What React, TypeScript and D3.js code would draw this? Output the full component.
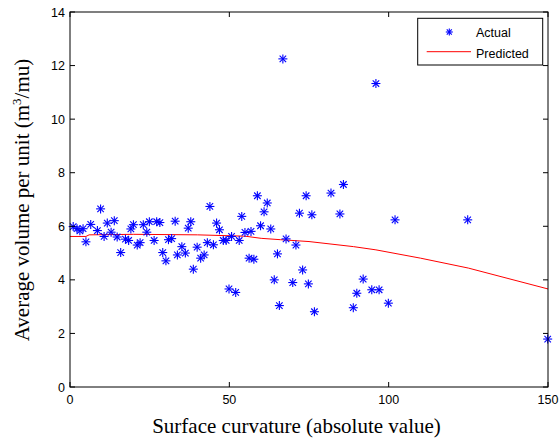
import React from "react";
import * as d3 from "d3";

const actualX = [
  1.0, 2.2, 3.1, 4.1, 5.0, 6.5, 8.6, 9.6, 10.7, 11.7, 12.9, 13.9, 14.8, 15.9, 17.4, 18.4, 19.1, 19.9,
  21.1, 22.0, 23.0, 24.1, 24.9, 26.4, 27.2, 28.2, 29.1, 30.1, 30.9, 31.9, 33.0, 33.7, 35.1, 36.2, 37.1,
  37.9, 38.7, 39.9, 41.0, 42.1, 43.1, 43.9, 45.0, 46.0, 46.9, 48.1, 49.0, 49.9, 50.7, 52.0, 53.1, 53.9,
  54.9, 56.2, 56.8, 57.7, 58.8, 59.8, 60.9, 61.9, 63.0, 64.1, 65.1, 65.7, 66.8, 67.8, 69.9, 70.9, 72.0,
  73.0, 74.1, 74.8, 75.9, 76.7, 81.9, 84.7, 85.8, 88.9, 90.0, 92.0, 94.7, 97.0, 99.9, 102.0, 124.8, 149.9,
  96.0,
];
const actualY = [
  5.99, 5.91, 5.83, 5.91, 5.42, 6.07, 5.84, 6.65, 5.62, 6.12, 5.78, 6.21, 5.6, 5.02, 5.52, 5.47, 5.9, 6.06,
  5.3, 5.39, 6.06, 5.78, 6.17, 5.47, 6.17, 6.14, 5.02, 4.71, 5.5, 5.54, 6.19, 4.93, 5.24, 5.0, 5.93,
  6.17, 4.4, 5.22, 4.81, 4.93, 5.39, 6.74, 5.31, 6.12, 5.87, 5.47, 5.47, 3.66, 5.62, 3.53, 5.47, 6.37,
  5.77, 4.81, 5.81, 4.77, 7.14, 6.02, 6.54, 6.87, 5.9, 4.0, 4.97, 3.04, 12.25, 5.53, 3.9, 5.3, 6.49,
  4.37, 7.14, 3.85, 6.43, 2.81, 7.24, 6.46, 7.56, 2.96, 3.5, 4.03, 3.63, 3.63, 3.13, 6.24, 6.24, 1.79,
  11.33,
];

const predX = [0, 5, 6, 20, 40, 55, 60, 66, 75, 89, 96, 110, 125, 150];
const predY = [5.62, 5.62, 5.68, 5.7, 5.68, 5.63, 5.55, 5.5, 5.43, 5.24, 5.12, 4.81, 4.44, 3.66];

const xTicks = [0, 50, 100, 150];
const yTicks = [0, 2, 4, 6, 8, 10, 12, 14];

const W = 560;
const H = 445;
const L = 70, R = 548, T = 12, B = 387;
const TICK = 5;

function Star({ x, y, s = 4.5, w = 1.1 }: { x: number; y: number; s?: number; w?: number }) {
  const d = s * 0.72;
  return (
    <g stroke="#0000ff" strokeWidth={w} fill="none">
      <line x1={x - s} y1={y} x2={x + s} y2={y} />
      <line x1={x} y1={y - s} x2={x} y2={y + s} />
      <line x1={x - d} y1={y - d} x2={x + d} y2={y + d} />
      <line x1={x - d} y1={y + d} x2={x + d} y2={y - d} />
    </g>
  );
}

export default function App() {
  const x = d3.scaleLinear().domain([0, 150]).range([L, R]);
  const y = d3.scaleLinear().domain([0, 14]).range([B, T]);
  const line = d3
    .line<number>()
    .x((_, i) => x(predX[i]))
    .y((d) => y(d));
  const tickFont = "Liberation Sans, Arial, Helvetica, sans-serif";
  const labelFont = "Liberation Serif, Times New Roman, serif";

  return (
    <svg
      width={W}
      height={H}
      style={{ position: "absolute", left: 0, top: 0, background: "#fff" }}
    >
      <rect x={0} y={0} width={W} height={H} fill="#fff" />
      <path d={line(predY) || ""} fill="none" stroke="#ff0000" strokeWidth={1} />
      {actualX.map((v, i) => (
        <Star key={i} x={x(v)} y={y(actualY[i])} />
      ))}
      <rect x={L} y={T} width={R - L} height={B - T} fill="none" stroke="#000" strokeWidth={1} />
      {xTicks.map((t) => (
        <g key={"x" + t}>
          <line x1={x(t)} x2={x(t)} y1={B} y2={B - TICK} stroke="#000" />
          <line x1={x(t)} x2={x(t)} y1={T} y2={T + TICK} stroke="#000" />
          <text
            x={x(t)}
            y={404}
            textAnchor="middle"
            fontFamily={tickFont}
            fontSize={12.5}
            fill="#000"
          >
            {t}
          </text>
        </g>
      ))}
      {yTicks.map((t) => (
        <g key={"y" + t}>
          <line x1={L} x2={L + TICK} y1={y(t)} y2={y(t)} stroke="#000" />
          <line x1={R} x2={R - TICK} y1={y(t)} y2={y(t)} stroke="#000" />
          <text
            x={65}
            y={y(t) + 4.5}
            textAnchor="end"
            fontFamily={tickFont}
            fontSize={12.5}
            fill="#000"
          >
            {t}
          </text>
        </g>
      ))}
      <text
        x={296.5}
        y={433}
        textAnchor="middle"
        fontFamily={labelFont}
        fontSize={21}
        fill="#000"
      >
        Surface curvature (absolute value)
      </text>
      <text
        transform={`translate(29,200) rotate(-90)`}
        textAnchor="middle"
        fontFamily={labelFont}
        fontSize={21}
        fill="#000"
      >
        Average volume per unit (m
        <tspan dy={-8} fontSize={13}>3</tspan>
        <tspan dy={8}>/mu)</tspan>
      </text>
      <rect x={417.7} y={18.3} width={125} height={46.7} fill="#fff" stroke="#000" strokeWidth={1} />
      <Star x={449.3} y={32} s={3.5} />
      <text x={476} y={37} fontFamily={tickFont} fontSize={12.5} fill="#000">
        Actual
      </text>
      <line x1={426.7} x2={471} y1={51.7} y2={51.7} stroke="#ff0000" strokeWidth={1} />
      <text x={476} y={57.5} fontFamily={tickFont} fontSize={12.5} fill="#000">
        Predicted
      </text>
    </svg>
  );
}
